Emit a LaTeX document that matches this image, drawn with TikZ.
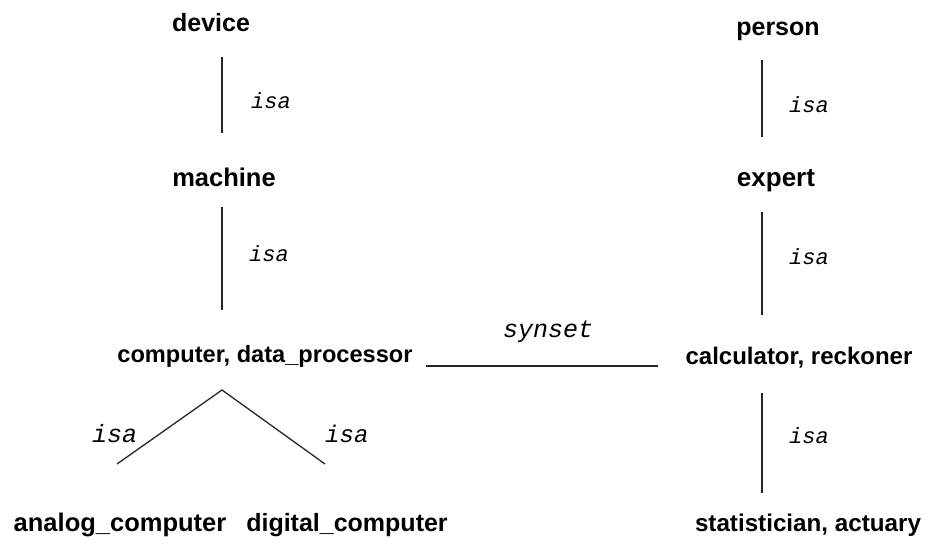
\documentclass[tikz,border=0pt]{standalone}
\usepackage{fontspec}
\setmainfont{Liberation Sans}
\newfontfamily\relfont{Liberation Mono}
\begin{document}
\begin{tikzpicture}[x=1pt,y=-1pt,
  concept/.style={font=\fontsize{#1}{26}\selectfont\bfseries, anchor=base, inner sep=0pt},
  concept/.default=23,
  rel/.style={font=\fontsize{#1}{26}\selectfont\relfont\itshape, anchor=base west, inner sep=0pt},
  rel/.default=22,
  link/.style={line width=1.3pt, black!85}]
\useasboundingbox[fill=white] (0,0) rectangle (933,552);
% concepts
\node[concept=25] (device) at (211,31) {device};
\node[concept=25.5] (machine) at (224,186) {machine};
\node[concept=23.6] (computer) at (265,362) {computer, data\_processor};
\node[concept=25.5] (analog) at (120,531) {analog\_computer};
\node[concept=25] (digital) at (347,531) {digital\_computer};
\node[concept=25] (person) at (778,35) {person};
\node[concept=26] (expert) at (776,186) {expert};
\node[concept=24] (calc) at (799,364) {calculator, reckoner};
\node[concept=24.2] (stat) at (808,531) {statistician, actuary};
% connector end points
\coordinate (dm1) at (222,57);  \coordinate (dm2) at (222,133);
\coordinate (mc1) at (222,207); \coordinate (mc2) at (222,310);
\coordinate (pe1) at (762,60);  \coordinate (pe2) at (762,137);
\coordinate (ec1) at (762,212); \coordinate (ec2) at (762,315);
\coordinate (cs1) at (762,393); \coordinate (cs2) at (762,493);
\coordinate (apex) at (222,390);
\coordinate (aend) at (117,464);
\coordinate (dend) at (325,464);
\coordinate (sy1) at (426,366); \coordinate (sy2) at (658,366);
% connectors
\draw[link] (dm1) -- (dm2);
\draw[link] (mc1) -- (mc2);
\draw[link] (pe1) -- (pe2);
\draw[link] (ec1) -- (ec2);
\draw[link] (cs1) -- (cs2);
\draw[link] (aend) -- (apex) -- (dend);
\draw[link] (sy1) -- (sy2);
% relation labels
\node[rel] (r1) at (251,108) {isa};
\node[rel] (r2) at (249,261) {isa};
\node[rel] (r3) at (789,112) {isa};
\node[rel] (r4) at (789,264) {isa};
\node[rel] (r5) at (789,443) {isa};
\node[rel=25] (r6) at (92,442) {isa};
\node[rel=24] (r7) at (325,442) {isa};
\node[rel=25] (r8) at (503,337) {synset};
\end{tikzpicture}
\end{document}
